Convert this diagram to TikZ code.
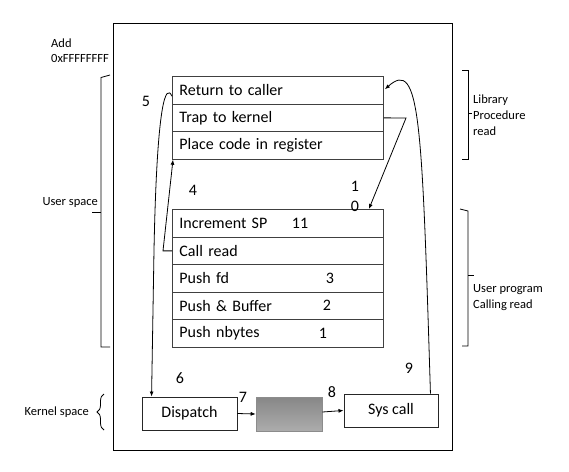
\documentclass[tikz,border=0pt]{standalone}
\usepackage{fontspec}
\setmainfont{Carlito}
\usetikzlibrary{arrows.meta,decorations.pathreplacing}
\begin{document}
\begin{tikzpicture}[x=1pt,y=-1pt,
  every node/.style={inner sep=0pt},
  big/.style={font=\fontsize{16}{19}\selectfont},
  small/.style={font=\fontsize{12.5}{16}\selectfont},
  row/.style={draw=black!75,line width=0.9pt,anchor=north west,minimum height=27.6pt,
    text width=197pt,inner xsep=7pt,inner ysep=0pt,align=left,big},
  kbox/.style={draw=black!85,line width=0.9pt,big},
  arr/.style={line width=0.8pt,-{Latex[length=5pt,width=4pt]}},
  lin/.style={line width=0.8pt}]
\useasboundingbox (0,0) rectangle (569,471);
% outer box
\draw[line width=0.9pt] (113,23) rectangle (452,450);
% upper stack
\node[row] (r1) at (172,76) {Return to caller};
\node[row] (r2) at (172,103.6) {Trap to kernel};
\node[row] (r3) at (172,131.2) {Place code in register};
% lower stack
\node[row] (s1) at (172,209) {Increment SP};
\node[row] (s2) at (172,236.6) {Call read};
\node[row] (s3) at (172,264.2) {Push fd};
\node[row] (s4) at (172,291.8) {Push \& Buffer};
\node[row] (s5) at (172,319.4) {Push nbytes};
\node[big] (n11) at (300,223) {11};
\node[big] (n3) at (330,278) {3};
\node[big] (n2) at (327,305) {2};
\node[big] (n1) at (323,333) {1};
% kernel boxes
\node[kbox,minimum width=95pt,minimum height=33pt] (dispatch) at (189.5,413.5) {Dispatch};
\node[draw=black!45,line width=0.6pt,minimum width=66pt,minimum height=34pt,
  top color={rgb,255:red,135;green,135;blue,135},bottom color={rgb,255:red,172;green,172;blue,172}] (gray) at (289,414) {};
\node[kbox,minimum width=94pt,minimum height=33pt] (syscall) at (391,410.5) {Sys call};
% step labels
\node[big] (l5) at (146,101) {5};
\node[big] (l4) at (193,190) {4};
\node[big,align=center,font=\fontsize{16}{20}\selectfont] (l10) at (355,196) {1\\0};
\node[big] (l6) at (180,378) {6};
\node[big] (l7) at (243,397) {7};
\node[big] (l8) at (332,392) {8};
\node[big] (l9) at (409,368) {9};
% connectors
\draw[arr] ([xshift=-8pt]syscall.north east) .. controls (422,120) and (420,58) .. ([xshift=1pt,yshift=1pt]r1.east);
\draw[arr] (r2.east) -- (406,118) -- ([xshift=-15pt]s1.north east);
\draw[arr] (s2.west) -- ++(-9,0) -- ([xshift=1pt]r3.south west);
\draw[arr] ([yshift=-6pt]r1.west) .. controls (166,83) and (157,100) .. (154,250) -- ([xshift=10pt]dispatch.north west);
\draw[arr] (dispatch.east) -- (gray.west);
\draw[arr] ([yshift=2pt]gray.east) -- (syscall.west);
% side labels and brackets
\node[small,anchor=west] (add) at (51,43) {Add};
\node[small,anchor=west] (addr) at (51,58) {0xFFFFFFFF};
\draw[lin] (110,75) -- (101,77.5) -- (101,347) -- (110,347);
\draw[lin] (92,212) -- (101,212);
\node[small,anchor=east] (us) at (98,202) {User space};
\draw[lin,decorate,decoration={brace,amplitude=7pt}] (104,430) -- (104,394);
\node[small,anchor=east] (ks) at (89,412) {Kernel space};
\draw[lin] (462,70) -- (468,70) -- (468,159) -- (462,159);
\draw[lin] (468,113) -- (472,113);
\node[small,anchor=west,align=left] (lib) at (473,115) {Library\\Procedure\\read};
\draw[lin] (460,209) -- (468,211) -- (468,346) -- (462,346);
\draw[lin] (468,275) -- (474,275);
\node[small,anchor=west,align=left] (up) at (473,298) {User program\\Calling read};
\end{tikzpicture}
\end{document}
